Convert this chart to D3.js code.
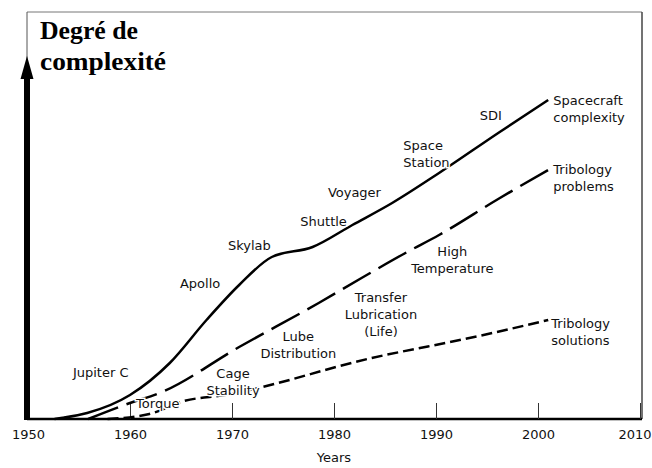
<!DOCTYPE html>
<html>
<head>
<meta charset="utf-8">
<script src="https://cdn.jsdelivr.net/npm/d3@7"></script>
<style>
  body { margin: 0; background: #fff; }
  svg { display: block; }
  .lbl { font-family: "DejaVu Sans", sans-serif; font-size: 13px; fill: #111; }
  .title { font-family: "Liberation Serif", "Times New Roman", serif; font-weight: bold; font-size: 25px; fill: #000; }
</style>
</head>
<body>
<svg id="chart" width="652" height="468"></svg>
<script>
// axis ticks
var tickYears = [1950, 1960, 1970, 1980, 1990, 2000, 2010];

// spacecraft complexity (solid)
var craftYears = [1952.6, 1953.4, 1955.8, 1960.0, 1963.9, 1967.5, 1970.7, 1973.9, 1977.9, 1981.8, 1985.7, 1990.3, 1996.1, 2001.0];
var craftValues = [0, 0.3, 1.5, 6, 14, 24.75, 33.5, 40.5, 43, 48.5, 54, 61.5, 71.5, 79.75];

// tribology problems (long dashes)
var problemYears = [1955.9, 1960.0, 1962.9, 1970.7, 1978.5, 1982.7, 1987.0, 1990.3, 1996.1, 2001.0];
var problemValues = [0, 4, 6.5, 18, 29, 35.25, 41.5, 46, 55, 62.25];

// tribology solutions (short dashes)
var solutionYears = [1957.8, 1961.9, 1965.3, 1969.3, 1983.7, 1994.2, 2001.0];
var solutionValues = [0, 1.25, 4.5, 6, 15.25, 20.75, 24.75];

// annotations: text lines, anchor year, anchor level, text-anchor
var noteTexts = [["SDI"], ["Space", "Station"], ["Voyager"], ["Shuttle"], ["Skylab"], ["Apollo"], ["Jupiter C"],
    ["Torque"], ["Cage", "Stability"], ["Lube", "Distribution"], ["Transfer", "Lubrication", "(Life)"],
    ["High", "Temperature"], ["Spacecraft", "complexity"], ["Tribology", "problems"], ["Tribology", "solutions"]];
var noteYears = [1994.3, 1986.8, 1979.4, 1976.7, 1969.6, 1964.9, 1954.4,
    1960.6, 1970.1, 1976.5, 1984.6, 1991.6, 2001.5, 2001.5, 2001.3];
var noteLevels = [74.75, 67.25, 55.5, 48.25, 42.25, 32.75, 10.5,
    2.75, 10.25, 19.5, 29.25, 40.75, 78.5, 61.25, 22.75];
var noteAnchors = ["start", "start", "start", "start", "start", "start", "start",
    "start", "middle", "middle", "middle", "middle", "start", "start", "start"];

var svg = d3.select("#chart");

var x = d3.scaleLinear().domain([1950, 2010]).range([28, 640]);
var y = d3.scaleLinear().domain([0, 100]).range([419, 19]);

// frame
svg.append("line").attr("x1", 27).attr("x2", 642).attr("y1", 12).attr("y2", 12)
    .attr("stroke", "#777").attr("stroke-width", 1);
svg.append("line").attr("x1", 642).attr("x2", 642).attr("y1", 12).attr("y2", 419)
    .attr("stroke", "#444").attr("stroke-width", 1.5);
svg.append("line").attr("x1", 27).attr("x2", 27).attr("y1", 12).attr("y2", 60)
    .attr("stroke", "#555").attr("stroke-width", 1);

// x axis
var xAxis = d3.axisBottom(x)
    .tickValues(tickYears)
    .tickFormat(d3.format("d"))
    .tickSizeInner(-16)
    .tickSizeOuter(0)
    .tickPadding(11);

var gx = svg.append("g")
    .attr("transform", "translate(0," + y(0) + ")")
    .call(xAxis);
gx.select(".domain").attr("stroke", "#000").attr("stroke-width", 2.5).attr("d", "M27,0H642");
gx.selectAll(".tick line").attr("stroke", "#333").attr("stroke-width", 1);
gx.selectAll(".tick text")
    .attr("fill", "#111")
    .style("font-family", "DejaVu Sans, sans-serif")
    .style("font-size", "13px");
// last label would run off the page: pull it in against the edge
gx.selectAll(".tick text").filter(function(d) { return d == 2010; })
    .attr("text-anchor", "end").attr("x", 651 - x(2010));

svg.append("text").attr("class", "lbl")
    .attr("x", x(1980)).attr("y", 462)
    .attr("text-anchor", "middle")
    .text("Years");

// y axis arrow
svg.append("line").attr("x1", 27).attr("x2", 27).attr("y1", y(0) + 1).attr("y2", 74)
    .attr("stroke", "#000").attr("stroke-width", 6);
svg.append("path").attr("d", "M27,56L20.5,79L33.5,79Z").attr("fill", "#000");

// title
svg.append("text").attr("class", "title").attr("x", 40).attr("y", 39)
    .attr("textLength", 98).attr("lengthAdjust", "spacingAndGlyphs").text("Degré de");
svg.append("text").attr("class", "title").attr("x", 40).attr("y", 70)
    .attr("textLength", 126).attr("lengthAdjust", "spacingAndGlyphs").text("complexité");

// curves
var line = d3.line()
    .x(function(d) { return x(d[0]); })
    .y(function(d) { return y(d[1]); })
    .curve(d3.curveMonotoneX);

function pairs(xs, ys) {
    return xs.map(function(v, i) { return [v, ys[i]]; });
}

svg.append("path")
    .datum(pairs(solutionYears, solutionValues))
    .attr("d", line)
    .attr("fill", "none").attr("stroke", "#000").attr("stroke-width", 2.5)
    .attr("stroke-dasharray", "11,5");

svg.append("path")
    .datum(pairs(problemYears, problemValues))
    .attr("d", line)
    .attr("fill", "none").attr("stroke", "#000").attr("stroke-width", 2.5)
    .attr("stroke-dasharray", "32,9");

svg.append("path")
    .datum(pairs(craftYears, craftValues))
    .attr("d", line)
    .attr("fill", "none").attr("stroke", "#000").attr("stroke-width", 2.5);

// annotations
noteTexts.forEach(function(lines, i) {
    var t = svg.append("text").attr("class", "lbl")
        .attr("text-anchor", noteAnchors[i])
        .attr("x", x(noteYears[i]))
        .attr("y", y(noteLevels[i]))
        .attr("stroke", "#fff").attr("stroke-width", 3)
        .attr("paint-order", "stroke");
    lines.forEach(function(s, j) {
        t.append("tspan")
            .attr("x", x(noteYears[i]))
            .attr("dy", j == 0 ? 0 : 17)
            .text(s);
    });
});
</script>
</body>
</html>
